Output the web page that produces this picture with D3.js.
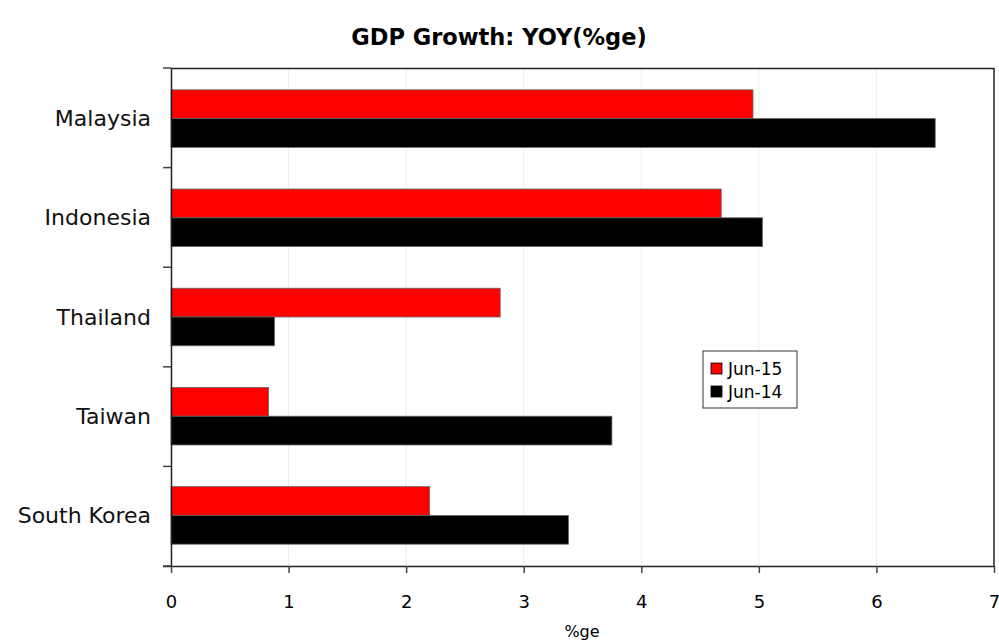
<!DOCTYPE html>
<html>
<head>
<meta charset="utf-8">
<script src="https://cdn.jsdelivr.net/npm/d3@7.9.0/dist/d3.min.js"></script>
<style>
  body { margin: 0; background: #fff; }
  svg { display: block; font-family: "DejaVu Sans", Verdana, sans-serif; }
</style>
</head>
<body>
<div id="chart"></div>
<script>
// Chart data
const countries = ['Malaysia', 'Indonesia', 'Thailand', 'Taiwan', 'South Korea'];
const series = ['Jun-15', 'Jun-14'];
const jun15 = [4.95, 4.68, 2.80, 0.83, 2.20];
const jun14 = [6.50, 5.03, 0.88, 3.75, 3.38];
const xTicks = [0, 1, 2, 3, 4, 5, 6, 7];
const colors = ['#ff0000', '#000000'];

const width = 999, height = 644;
const margin = {top: 68, right: 5, bottom: 78, left: 171};
const innerW = width - margin.left - margin.right;
const innerH = height - margin.top - margin.bottom;

const svg = d3.select('#chart').append('svg')
  .attr('width', width)
  .attr('height', height);

svg.append('text')
  .attr('x', 499)
  .attr('y', 45)
  .attr('text-anchor', 'middle')
  .attr('font-size', 22.5)
  .attr('font-weight', 'bold')
  .text('GDP Growth: YOY(%ge)');

const g = svg.append('g')
  .attr('transform', `translate(${margin.left},${margin.top})`);

// Scales
const x = d3.scaleLinear().domain([0, 7]).range([0, innerW]);
const y = d3.scaleBand().domain(countries).range([0, innerH]).paddingInner(0.42).paddingOuter(0.22);
const ySub = d3.scaleBand().domain(series).range([0, y.bandwidth()]);

// Gridlines
g.selectAll('.grid')
  .data(xTicks.slice(1, -1))
  .join('line')
  .attr('x1', d => x(d)).attr('x2', d => x(d))
  .attr('y1', 0).attr('y2', innerH)
  .attr('stroke', '#ebebeb')
  .attr('stroke-width', 1);

// Top and right border
g.append('path')
  .attr('d', `M0,0.5H${innerW}V${innerH}`)
  .attr('fill', 'none')
  .attr('stroke', '#222')
  .attr('stroke-width', 1.5);

// Bars
const rows = countries.map((c, i) => ({country: c, values: [jun15[i], jun14[i]]}));
const groups = g.selectAll('.grp')
  .data(rows)
  .join('g')
  .attr('transform', d => `translate(0,${y(d.country)})`);

groups.selectAll('rect')
  .data(d => d.values.map((v, j) => ({key: series[j], value: v, color: colors[j]})))
  .join('rect')
  .attr('x', 0)
  .attr('y', d => ySub(d.key))
  .attr('width', d => x(d.value))
  .attr('height', ySub.bandwidth())
  .attr('fill', d => d.color)
  .attr('stroke', '#666')
  .attr('stroke-width', 0.8);

// X axis
const xAxis = g.append('g')
  .attr('transform', `translate(0,${innerH})`)
  .call(d3.axisBottom(x).tickValues(xTicks).tickFormat(d3.format('d')).tickSize(7).tickPadding(22).tickSizeOuter(0));
xAxis.select('.domain').attr('stroke', '#222').attr('stroke-width', 1.5).attr('d', `M-8,0.5H${innerW}`);
xAxis.selectAll('.tick line').attr('stroke', '#444').attr('stroke-width', 1.5);
xAxis.selectAll('text').attr('font-size', 18).attr('font-family', '"DejaVu Sans", sans-serif').attr('fill', '#000');

// Y axis: ticks at category boundaries
g.selectAll('.ytick')
  .data(d3.range(countries.length + 1))
  .join('line')
  .attr('x1', -8).attr('x2', 0)
  .attr('y1', i => i * innerH / countries.length)
  .attr('y2', i => i * innerH / countries.length)
  .attr('stroke', '#444')
  .attr('stroke-width', 1.5);
g.append('line')
  .attr('x1', 0.5).attr('x2', 0.5)
  .attr('y1', 0).attr('y2', innerH)
  .attr('stroke', '#222')
  .attr('stroke-width', 1.5);

g.selectAll('.ylabel')
  .data(countries)
  .join('text')
  .attr('x', -20)
  .attr('y', d => y(d) + y.bandwidth() / 2)
  .attr('dy', '0.35em')
  .attr('text-anchor', 'end')
  .attr('font-size', 22)
  .attr('fill', '#111')
  .text(d => d);

// Axis title
svg.append('text')
  .attr('x', 582)
  .attr('y', 637)
  .attr('text-anchor', 'middle')
  .attr('font-size', 16)
  .text('%ge');

// Legend
const leg = svg.append('g').attr('transform', 'translate(703,351)');
leg.append('rect')
  .attr('width', 94).attr('height', 57)
  .attr('fill', '#fff').attr('stroke', '#333').attr('stroke-width', 1);
series.forEach((s, i) => {
  leg.append('rect')
    .attr('x', 8).attr('y', 12 + i * 23)
    .attr('width', 11).attr('height', 11)
    .attr('fill', colors[i]).attr('stroke', '#000').attr('stroke-width', 0.8);
  leg.append('text')
    .attr('x', 25).attr('y', 18 + i * 23)
    .attr('dy', '0.35em')
    .attr('font-size', 17)
    .text(s);
});
</script>
</body>
</html>
